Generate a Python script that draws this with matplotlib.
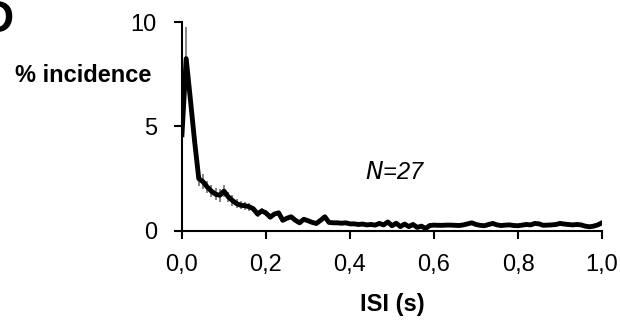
import matplotlib
matplotlib.use("Agg")
import matplotlib.pyplot as plt
import numpy as np

plt.rcParams['font.family'] = ['Liberation Sans Narrow', 'Liberation Sans', 'DejaVu Sans']

# ISI histogram, 10 ms bins
isi = np.round(np.arange(0, 101) * 0.01, 2)
incidence = [
    4.6, 8.25, 6.3, 4.3, 2.5, 2.35, 2.1, 1.9, 1.75, 1.7,
    1.9, 1.63, 1.45, 1.3, 1.22, 1.2, 1.15, 1.05, 0.8, 0.95,
    0.85, 0.65, 0.8, 0.86, 0.5, 0.6, 0.67, 0.5, 0.38, 0.55,
    0.48, 0.4, 0.35, 0.5, 0.67, 0.4, 0.38, 0.38, 0.36, 0.38,
    0.33, 0.33, 0.3, 0.32, 0.28, 0.3, 0.27, 0.35, 0.28, 0.42,
    0.24, 0.36, 0.2, 0.32, 0.2, 0.3, 0.16, 0.22, 0.11, 0.25,
    0.27, 0.26, 0.26, 0.27, 0.27, 0.26, 0.25, 0.28, 0.33, 0.38,
    0.3, 0.26, 0.24, 0.3, 0.35, 0.28, 0.25, 0.27, 0.28, 0.25,
    0.24, 0.27, 0.3, 0.28, 0.35, 0.33, 0.26, 0.27, 0.28, 0.3,
    0.35, 0.32, 0.3, 0.28, 0.3, 0.28, 0.22, 0.19, 0.22, 0.28,
    0.38,
]
sem = [
    0.0, 1.5, 0.6, 0.5, 0.35, 0.35, 0.3, 0.3, 0.3, 0.3,
    0.3, 0.25, 0.25, 0.2, 0.2, 0.2, 0.2, 0.15, 0.15, 0.15,
    0.15,
] + [0.1] * 80

xticks = [0, 0.2, 0.4, 0.6, 0.8, 1.0]
xticklabels = ["0,0", "0,2", "0,4", "0,6", "0,8", "1,0"]
yticks = [0, 5, 10]

fig = plt.figure(figsize=(6.2, 3.32), dpi=100)
ax = fig.add_axes([0.2935, 0.305, 0.6775, 0.6285])

ax.errorbar(isi, incidence, yerr=sem, fmt="none", ecolor="#666666", elinewidth=1.1)
ax.plot(isi, incidence, color="black", lw=3.5, solid_joinstyle="round")

ax.set_xlim(0, 1.0)
ax.set_ylim(0, 10)
ax.set_xticks(xticks)
ax.set_xticklabels(xticklabels)
ax.set_yticks(yticks)
ax.spines["top"].set_visible(False)
ax.spines["right"].set_visible(False)
ax.spines["left"].set_linewidth(1.5)
ax.spines["bottom"].set_linewidth(1.5)
ax.tick_params(axis="x", length=6, width=1.5, pad=11, labelsize=17)
ax.tick_params(axis="y", length=6, width=1.5, pad=12, labelsize=17)

ax.text(0.507, 2.8, "$N$=27", fontsize=17, ha="center", va="center",
        style="italic")

fig.text(83 / 620, 1 - 75 / 332, "% incidence", fontsize=17, fontweight="bold",
         ha="center", va="center")
fig.text(392 / 620, 1 - 305 / 332, "ISI (s)", fontsize=17, fontweight="bold",
         ha="center", va="center")
# panel letter, partly outside the left edge as in the source figure
fig.text(14 / 620, 1 - 32 / 332, "D", fontsize=32, fontweight="bold",
         ha="right", va="baseline")

fig.savefig("out.png", dpi=100)
